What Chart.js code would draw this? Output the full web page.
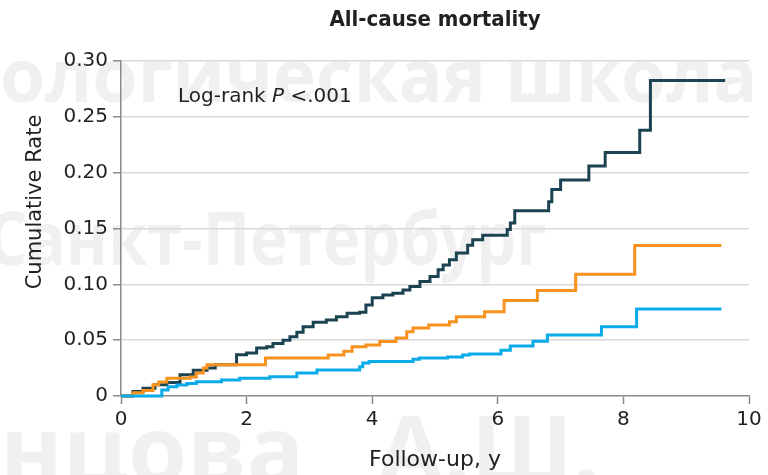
<!DOCTYPE html>
<html>
<head>
<meta charset="utf-8">
<script src="https://cdn.jsdelivr.net/npm/chart.js@4.4.1/dist/chart.umd.min.js"></script>
<style>
html,body{margin:0;padding:0;background:#fff;}
#wrap{width:768px;height:475px;}
</style>
</head>
<body>
<div id="wrap"><canvas id="c" width="768" height="475"></canvas></div>
<script>
const chartTitle = 'All-cause mortality';
const xAxisTitle = 'Follow-up, y';
const yAxisTitle = 'Cumulative Rate';
const annotationParts = ['Log-rank ', 'P', ' <.001'];
const watermarkLines = ['ологическая школа Б', 'Санкт-Петербург', 'нцова', 'А.Ш.'];
const xTickLabels = ['0', '2', '4', '6', '8', '10'];
const yTickLabels = ['0', '0.05', '0.10', '0.15', '0.20', '0.25', '0.30'];

const darkTimes = [0, 0.19, 0.35, 0.54, 0.73, 0.94, 1.15, 1.37, 1.50, 1.84, 2.00, 2.16, 2.32, 2.42, 2.58, 2.69, 2.80, 2.90, 3.06, 3.27, 3.43, 3.60, 3.80, 3.90, 4.00, 4.17, 4.33, 4.49, 4.60, 4.76, 4.92, 5.05, 5.13, 5.23, 5.34, 5.52, 5.60, 5.76, 6.15, 6.20, 6.27, 6.81, 6.86, 7.00, 7.45, 7.71, 8.26, 8.43, 9.62];
const darkRates = [0, 0.004, 0.007, 0.010, 0.012, 0.019, 0.023, 0.025, 0.028, 0.037, 0.0385, 0.043, 0.044, 0.047, 0.050, 0.053, 0.057, 0.062, 0.066, 0.068, 0.071, 0.074, 0.075, 0.0815, 0.088, 0.0905, 0.092, 0.095, 0.098, 0.1025, 0.107, 0.113, 0.1174, 0.122, 0.128, 0.135, 0.140, 0.144, 0.149, 0.155, 0.166, 0.174, 0.185, 0.1935, 0.206, 0.218, 0.238, 0.2825, 0.2825];

const orangeTimes = [0, 0.19, 0.35, 0.51, 0.60, 0.73, 1.10, 1.20, 1.31, 1.37, 2.30, 3.30, 3.55, 3.68, 3.90, 4.12, 4.38, 4.55, 4.65, 4.90, 5.23, 5.34, 5.79, 6.10, 6.63, 7.24, 8.18, 9.56];
const orangeRates = [0, 0.003, 0.005, 0.010, 0.0125, 0.016, 0.017, 0.0205, 0.025, 0.028, 0.034, 0.0367, 0.040, 0.044, 0.0457, 0.0487, 0.052, 0.0576, 0.061, 0.0636, 0.0666, 0.071, 0.0755, 0.0855, 0.0944, 0.109, 0.1347, 0.1347];

const blueTimes = [0, 0.65, 0.75, 0.89, 1.05, 1.20, 1.60, 1.89, 2.37, 2.80, 3.12, 3.80, 3.85, 3.95, 4.65, 4.75, 5.20, 5.44, 5.55, 6.05, 6.20, 6.56, 6.79, 7.65, 8.21, 9.56];
const blueRates = [0, 0.0054, 0.0083, 0.0099, 0.0113, 0.0128, 0.0143, 0.016, 0.0173, 0.0206, 0.0233, 0.0263, 0.0295, 0.031, 0.033, 0.034, 0.035, 0.0367, 0.0376, 0.041, 0.0448, 0.049, 0.0547, 0.062, 0.078, 0.078];

const FONT = '"DejaVu Sans", "Liberation Sans", sans-serif';
const TITLE_FONT = '"DejaVu Sans Condensed", "DejaVu Sans", sans-serif';
const TEXT = '#231f20';
const AXIS = '#8a8a8a';

function pts(ts, rs) { return ts.map((t, i) => ({ x: t, y: rs[i] })); }

const watermarkPlugin = {
  id: 'watermark',
  beforeDraw(chart) {
    const ctx = chart.ctx;
    ctx.save();
    ctx.fillStyle = '#f0f0f0';
    ctx.textBaseline = 'alphabetic';
    ctx.textAlign = 'left';
    ctx.font = 'bold 73px "Open Sans", "Noto Sans", sans-serif';
    ctx.fillText(watermarkLines[0], 0, 102);
    ctx.save();
    ctx.translate(-13, 265);
    ctx.scale(0.87, 1);
    ctx.fillText(watermarkLines[1], 0, 0);
    ctx.restore();
    ctx.font = 'bold 95px "Open Sans", "Noto Sans", sans-serif';
    ctx.fillText(watermarkLines[2], 0, 484);
    ctx.fillText(watermarkLines[3], 378, 484);
    ctx.restore();
  }
};

const textPlugin = {
  id: 'extraText',
  afterDraw(chart) {
    const ctx = chart.ctx;
    ctx.save();
    ctx.fillStyle = TEXT;
    ctx.textBaseline = 'alphabetic';
    ctx.textAlign = 'left';
    let x = chart.chartArea.left + 57;
    const y = chart.chartArea.top + 41;
    ctx.font = '20px ' + FONT;
    ctx.fillText(annotationParts[0], x, y);
    x += ctx.measureText(annotationParts[0]).width;
    ctx.font = 'italic 20px ' + FONT;
    ctx.fillText(annotationParts[1], x, y);
    x += ctx.measureText(annotationParts[1]).width;
    ctx.font = '20px ' + FONT;
    ctx.fillText(annotationParts[2], x, y);
    ctx.translate(36, 202);
    ctx.rotate(-Math.PI / 2);
    ctx.textAlign = 'center';
    ctx.textBaseline = 'middle';
    ctx.font = '21px ' + FONT;
    ctx.fillText(yAxisTitle, 0, 0);
    ctx.restore();
  }
};

const lineBase = { stepped: true, borderWidth: 3, pointRadius: 0, pointHoverRadius: 0, fill: false, clip: false, borderCapStyle: 'butt', borderJoinStyle: 'miter' };

new Chart(document.getElementById('c'), {
  type: 'line',
  data: {
    datasets: [
      Object.assign({ label: 'Low', data: pts(blueTimes, blueRates), borderColor: '#0aabe9' }, lineBase),
      Object.assign({ label: 'Intermediate', data: pts(orangeTimes, orangeRates), borderColor: '#f7921e' }, lineBase),
      Object.assign({ label: 'High', data: pts(darkTimes, darkRates), borderColor: '#1c4352' }, lineBase)
    ]
  },
  options: {
    responsive: false,
    animation: false,
    devicePixelRatio: 1,
    layout: { padding: { left: 0, right: 19, top: 0, bottom: 0 } },
    plugins: {
      legend: { display: false },
      tooltip: { enabled: false },
      title: {
        display: true,
        text: chartTitle,
        fullSize: false,
        color: TEXT,
        font: { family: TITLE_FONT, size: 22, weight: 'bold' },
        padding: { top: 7, bottom: 27.6 }
      }
    },
    scales: {
      x: {
        type: 'linear',
        min: 0,
        max: 10,
        afterFit(s) { s.height = 79; },
        ticks: {
          stepSize: 2,
          autoSkip: false,
          maxRotation: 0,
          padding: 4,
          color: TEXT,
          font: { family: FONT, size: 20 },
          callback: (v, i) => xTickLabels[i]
        },
        grid: { drawOnChartArea: false, drawTicks: true, tickLength: 8, tickColor: AXIS, tickWidth: 1.5 },
        border: { display: true, color: AXIS, width: 1.5 },
        title: { display: true, text: xAxisTitle, color: TEXT, font: { family: FONT, size: 22 }, padding: { top: 0, bottom: 2 } }
      },
      y: {
        min: 0,
        max: 0.30,
        afterFit(s) { s.width = 121; },
        ticks: {
          stepSize: 0.05,
          padding: 5,
          color: TEXT,
          font: { family: FONT, size: 20 },
          callback: (v, i) => yTickLabels[i]
        },
        grid: {
          color: (c) => (c.index === 0 ? 'rgba(0,0,0,0)' : '#d9d9d9'),
          lineWidth: 1.5,
          drawTicks: true,
          tickLength: 8,
          tickColor: AXIS,
          tickWidth: 1.5
        },
        border: { display: true, color: AXIS, width: 1.5 }
      }
    }
  },
  plugins: [watermarkPlugin, textPlugin]
});
</script>
</body>
</html>
